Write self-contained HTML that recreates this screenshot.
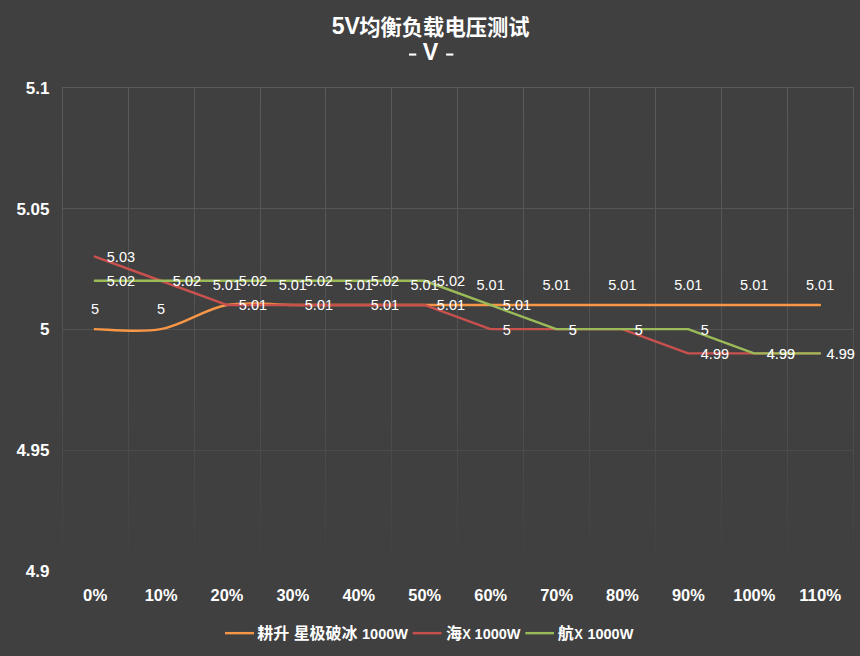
<!DOCTYPE html>
<html lang="zh"><head><meta charset="utf-8"><title>5V均衡负载电压测试</title>
<style>
html,body{margin:0;padding:0;background:#404040;}
body{width:860px;height:656px;overflow:hidden;font-family:"Liberation Sans",sans-serif;}
svg{display:block;}
text{font-family:"Liberation Sans","Noto Sans CJK SC",sans-serif;fill:#ffffff;}
.ax{font-weight:bold;font-size:17px;}
.dl{font-size:14.5px;}
.lg{font-weight:bold;font-size:14.5px;}
.tt{font-weight:bold;font-size:23.2px;}
.cjk{fill:#ffffff;}
.tc{font-weight:bold;font-size:21.3px;}
.lc{font-weight:bold;font-size:16px;}
</style></head><body>
<svg width="860" height="656" viewBox="0 0 860 656" role="img" aria-label="5V均衡负载电压测试 - V -">
<defs>
<linearGradient id="vg" gradientUnits="userSpaceOnUse" x1="0" y1="87.5" x2="0" y2="571.5">
<stop offset="0" stop-color="#5a5a5a"/><stop offset="0.5" stop-color="#525252"/><stop offset="0.75" stop-color="#4b4b4b"/><stop offset="1" stop-color="#404040"/></linearGradient>
</defs>
<rect width="860" height="656" fill="#404040"/>
<g id="grid" shape-rendering="crispEdges">
<rect x="62" y="87" width="792" height="1" fill="#5a5a5a"/>
<rect x="62" y="208" width="792" height="1" fill="#565656"/>
<rect x="62" y="329" width="792" height="1" fill="#525252"/>
<rect x="62" y="450" width="792" height="1" fill="#4b4b4b"/>
<rect x="62" y="87" width="1" height="484" fill="url(#vg)"/>
<rect x="128" y="87" width="1" height="484" fill="url(#vg)"/>
<rect x="194" y="87" width="1" height="484" fill="url(#vg)"/>
<rect x="260" y="87" width="1" height="484" fill="url(#vg)"/>
<rect x="325" y="87" width="1" height="484" fill="url(#vg)"/>
<rect x="391" y="87" width="1" height="484" fill="url(#vg)"/>
<rect x="457" y="87" width="1" height="484" fill="url(#vg)"/>
<rect x="523" y="87" width="1" height="484" fill="url(#vg)"/>
<rect x="589" y="87" width="1" height="484" fill="url(#vg)"/>
<rect x="655" y="87" width="1" height="484" fill="url(#vg)"/>
<rect x="721" y="87" width="1" height="484" fill="url(#vg)"/>
<rect x="787" y="87" width="1" height="484" fill="url(#vg)"/>
<rect x="853" y="87" width="1" height="484" fill="url(#vg)"/>
</g>
<g id="series" fill="none" stroke-width="2.4" stroke-linecap="round" stroke-linejoin="round">
<path d="M94.86,329.15 C105.84,329.15 138.80,333.18 160.78,329.15 C182.75,325.12 204.72,308.98 226.69,304.95 C248.66,300.92 270.64,304.95 292.61,304.95 C314.58,304.95 336.55,304.95 358.52,304.95 C380.50,304.95 402.47,304.95 424.44,304.95 C446.41,304.95 468.39,304.95 490.36,304.95 C512.33,304.95 534.30,304.95 556.27,304.95 C578.25,304.95 600.22,304.95 622.19,304.95 C644.16,304.95 666.14,304.95 688.11,304.95 C710.08,304.95 732.05,304.95 754.02,304.95 C776.00,304.95 808.96,304.95 819.94,304.95" stroke="#F79646"/>
<polyline points="94.86,256.55 160.78,280.75 226.69,304.95 292.61,304.95 358.52,304.95 424.44,304.95 490.36,329.15 556.27,329.15 622.19,329.15 688.11,353.35 754.02,353.35 819.94,353.35" stroke="#C8514E"/>
<polyline points="94.86,280.75 160.78,280.75 226.69,280.75 292.61,280.75 358.52,280.75 424.44,280.75 490.36,304.95 556.27,329.15 622.19,329.15 688.11,329.15 754.02,353.35 819.94,353.35" stroke="#9BBB59"/>
</g>
<g id="labels" class="dl">
<text x="95.1" y="314.4" text-anchor="middle">5</text>
<text x="161.0" y="314.4" text-anchor="middle">5</text>
<text x="226.9" y="290.2" text-anchor="middle">5.01</text>
<text x="292.8" y="290.2" text-anchor="middle">5.01</text>
<text x="358.7" y="290.2" text-anchor="middle">5.01</text>
<text x="424.6" y="290.2" text-anchor="middle">5.01</text>
<text x="490.6" y="290.2" text-anchor="middle">5.01</text>
<text x="556.5" y="290.2" text-anchor="middle">5.01</text>
<text x="622.4" y="290.2" text-anchor="middle">5.01</text>
<text x="688.3" y="290.2" text-anchor="middle">5.01</text>
<text x="754.2" y="290.2" text-anchor="middle">5.01</text>
<text x="820.1" y="290.2" text-anchor="middle">5.01</text>
<text x="106.8" y="262.0">5.03</text>
<text x="172.8" y="286.1">5.02</text>
<text x="238.8" y="310.1">5.01</text>
<text x="304.8" y="310.1">5.01</text>
<text x="370.8" y="310.1">5.01</text>
<text x="436.8" y="310.1">5.01</text>
<text x="502.8" y="335.1">5</text>
<text x="568.8" y="335.1">5</text>
<text x="634.8" y="335.1">5</text>
<text x="700.8" y="359.1">4.99</text>
<text x="766.8" y="359.1">4.99</text>
<text x="826.6" y="359.1">4.99</text>
<text x="106.8" y="286.1">5.02</text>
<g opacity="0.35">
<text x="172.8" y="286.1">5.02</text>
</g>
<text x="238.8" y="286.1">5.02</text>
<text x="304.8" y="286.1">5.02</text>
<text x="370.8" y="286.1">5.02</text>
<text x="436.8" y="286.1">5.02</text>
<text x="502.8" y="310.1">5.01</text>
<g opacity="0.35">
<text x="568.8" y="335.1">5</text>
</g>
<g opacity="0.35">
<text x="634.8" y="335.1">5</text>
</g>
<text x="700.8" y="335.1">5</text>
<g opacity="0.35">
<text x="766.8" y="359.1">4.99</text>
</g>
<g opacity="0.35">
<text x="826.6" y="359.1">4.99</text>
</g>
</g>
<g id="yaxis" class="ax">
<text x="49.5" y="93.8" text-anchor="end">5.1</text>
<text x="49.5" y="214.8" text-anchor="end">5.05</text>
<text x="49.5" y="334.8" text-anchor="end">5</text>
<text x="49.5" y="455.8" text-anchor="end">4.95</text>
<text x="49.5" y="576.8" text-anchor="end">4.9</text>
</g>
<g id="xaxis" class="ax">
<text x="95.2" y="601.4" text-anchor="middle" textLength="24.2" lengthAdjust="spacingAndGlyphs">0%</text>
<text x="161.1" y="601.4" text-anchor="middle" textLength="32.8" lengthAdjust="spacingAndGlyphs">10%</text>
<text x="227.0" y="601.4" text-anchor="middle" textLength="32.8" lengthAdjust="spacingAndGlyphs">20%</text>
<text x="292.9" y="601.4" text-anchor="middle" textLength="32.8" lengthAdjust="spacingAndGlyphs">30%</text>
<text x="358.8" y="601.4" text-anchor="middle" textLength="32.8" lengthAdjust="spacingAndGlyphs">40%</text>
<text x="424.7" y="601.4" text-anchor="middle" textLength="32.8" lengthAdjust="spacingAndGlyphs">50%</text>
<text x="490.7" y="601.4" text-anchor="middle" textLength="32.8" lengthAdjust="spacingAndGlyphs">60%</text>
<text x="556.6" y="601.4" text-anchor="middle" textLength="32.8" lengthAdjust="spacingAndGlyphs">70%</text>
<text x="622.5" y="601.4" text-anchor="middle" textLength="32.8" lengthAdjust="spacingAndGlyphs">80%</text>
<text x="688.4" y="601.4" text-anchor="middle" textLength="32.8" lengthAdjust="spacingAndGlyphs">90%</text>
<text x="754.3" y="601.4" text-anchor="middle" textLength="42" lengthAdjust="spacingAndGlyphs">100%</text>
<text x="820.2" y="601.4" text-anchor="middle" textLength="42" lengthAdjust="spacingAndGlyphs">110%</text>
</g>
<g id="title" class="cjk ttl">
<title>5V均衡负载电压测试 - V -</title>
<text class="tt" x="331.8" y="34" textLength="28.2" lengthAdjust="spacingAndGlyphs">5V</text>
<text class="tc" x="359.3" y="35.1" textLength="170.2" lengthAdjust="spacingAndGlyphs">均衡负载电压测试</text>
<rect x="409" y="53.5" width="7.3" height="2.1"/><text class="tt" x="430.6" y="60" text-anchor="middle">V</text><rect x="446.1" y="53.5" width="7.3" height="2.1"/>
</g>
<g id="legend" class="cjk">
<g stroke-width="2.4" fill="none">
<line x1="225" y1="633.15" x2="254" y2="633.15" stroke="#F79646"/>
<line x1="412.7" y1="633.15" x2="441.5" y2="633.15" stroke="#C8514E"/>
<line x1="525.3" y1="633.15" x2="554" y2="633.15" stroke="#9BBB59"/>
</g>
<text class="lc" x="257.3" y="639.3" textLength="32" lengthAdjust="spacingAndGlyphs">耕升</text>
<text class="lc" x="293.7" y="639.3" textLength="63.7" lengthAdjust="spacingAndGlyphs">星极破冰</text>
<text class="lg" x="362" y="639.1">1000W</text>
<text class="lc" x="446" y="639.3">海</text>
<text class="lg" x="462.3" y="639.1" textLength="8.6" lengthAdjust="spacingAndGlyphs">X</text>
<text class="lg" x="474.6" y="639.1">1000W</text>
<text class="lc" x="557.8" y="639.3">航</text>
<text class="lg" x="574.2" y="639.1" textLength="8.6" lengthAdjust="spacingAndGlyphs">X</text>
<text class="lg" x="587.4" y="639.1">1000W</text>
</g>
</svg>
</body></html>
